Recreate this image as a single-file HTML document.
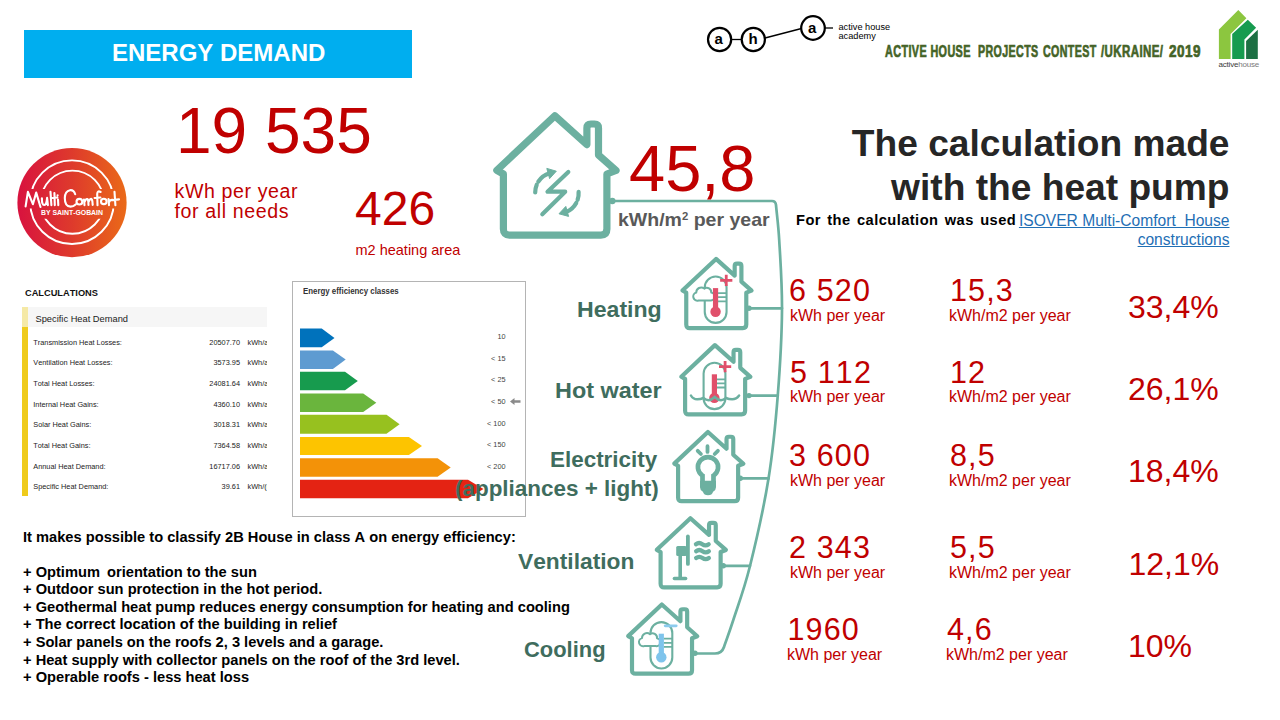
<!DOCTYPE html>
<html>
<head>
<meta charset="utf-8">
<style>
html,body{margin:0;padding:0;background:#fff;}
body{font-kerning:none;width:1280px;height:720px;position:relative;overflow:hidden;font-family:"Liberation Sans",sans-serif;}
.a{position:absolute;white-space:nowrap;line-height:1;}
.red{color:#c00000;}
.lbl{color:#3f6d5e;font-weight:bold;font-size:24px;text-align:right;}
.ct{font-size:16.8px;font-weight:bold;color:#446327;transform-origin:0 0;letter-spacing:0.6px;-webkit-text-stroke:0.7px #446327;}
.big{font-size:30.5px;letter-spacing:1.15px;}
.unit{font-size:16px;}
.pct{font-size:32px;}
.row{font-size:7.35px;color:#222;}
.num{text-align:right;width:60px;}
.cls{font-size:7.3px;color:#444;margin-top:-1.2px;text-align:right;width:40px;}
.bl{font-size:14.67px;font-weight:bold;color:#000;}
</style>
</head>
<body>

<!-- header bar -->
<div class="a" style="left:24px;top:30px;width:388px;height:48px;background:#00aeef;"></div>
<div class="a" id="t_energy" style="left:112px;top:41px;font-size:24px;font-weight:bold;color:#fff;">ENERGY DEMAND</div>

<!-- aha logo -->
<svg class="a" style="left:690px;top:0;" width="230" height="80" viewBox="690 0 230 80">
 <g fill="none" stroke="#000" stroke-width="2.2">
  <circle cx="719.6" cy="39.5" r="11.6"/>
  <circle cx="753.3" cy="39.5" r="11.6"/>
  <circle cx="813" cy="28" r="11.8"/>
 </g>
 <g stroke="#000" stroke-width="1.3">
  <line x1="731" y1="39.5" x2="742" y2="39.5"/>
  <line x1="765" y1="38" x2="801.5" y2="28.5"/>
  <line x1="825" y1="28" x2="833" y2="28"/>
 </g>
</svg>
<div class="a" style="left:714.5px;top:31px;font-size:15px;font-weight:bold;color:#000;">a</div>
<div class="a" style="left:748.5px;top:31px;font-size:15px;font-weight:bold;color:#000;">h</div>
<div class="a" style="left:808px;top:19.5px;font-size:15px;font-weight:bold;color:#000;">a</div>
<div class="a" style="left:838.5px;top:22.6px;font-size:9.2px;color:#000;line-height:9.8px;">active house<br>academy</div>

<div class="a ct" id="cw0" style="left:885.2px;top:44px;transform:scaleX(0.645);">ACTIVE HOUSE</div><div class="a ct" id="cw1" style="left:977.6px;top:44px;transform:scaleX(0.636);">PROJECTS</div><div class="a ct" id="cw2" style="left:1042.5px;top:44px;transform:scaleX(0.636);">CONTEST</div><div class="a ct" id="cw3" style="left:1100.7px;top:44px;transform:scaleX(0.685);">/UKRAINE/</div><div class="a ct" id="cw4" style="left:1169.4px;top:44px;transform:scaleX(0.806);">2019</div>

<!-- activehouse logo -->
<svg class="a" style="left:1200px;top:0;" width="80" height="80" viewBox="1200 0 80 80">
 <polygon points="1218.9,29.4 1238.3,10 1246.4,18.3 1230.6,33.9 1230.6,58.9 1218.9,58.9" fill="#8cc63f"/>
 <polygon points="1232.2,33.9 1247.8,19.8 1256.1,27.8 1244.4,39.4 1244.4,58.9 1232.2,58.9" fill="#169b4f"/>
 <polygon points="1246.1,41.1 1257.8,29.8 1257.8,58.9 1246.1,58.9" fill="#1d7044"/>
</svg>
<div class="a" style="left:1218.5px;top:61.2px;font-size:8px;color:#3a3a3a;letter-spacing:-0.2px;">active<span style="color:#7a7a7a">house</span></div>

<!-- Multi comfort logo -->
<svg class="a" style="left:10px;top:140px;" width="130" height="125" viewBox="10 140 130 125">
 <defs>
  <linearGradient id="mc" x1="0" y1="0" x2="1" y2="0">
   <stop offset="0" stop-color="#d8123f"/>
   <stop offset="0.5" stop-color="#de3a2c"/>
   <stop offset="1" stop-color="#ea6a18"/>
  </linearGradient>
 </defs>
 <clipPath id="mcc1"><rect x="10" y="140" width="130" height="48.9"/><rect x="10" y="208.6" width="130" height="60"/></clipPath>
 <clipPath id="mcc2"><rect x="10" y="140" width="130" height="48.9"/><rect x="10" y="218.8" width="130" height="60"/></clipPath>
 <circle cx="72" cy="202.7" r="54.6" fill="url(#mc)"/>
 <circle cx="72" cy="202.2" r="41.8" fill="none" stroke="#fff" stroke-width="1.9" clip-path="url(#mcc1)"/>
 <circle cx="72.4" cy="202.2" r="31.6" fill="none" stroke="#fff" stroke-width="1.9" clip-path="url(#mcc2)"/>
 <g fill="none" stroke="#fff" stroke-width="2.1" stroke-linecap="round" stroke-linejoin="round">
  <path d="M25.6 206.4 L27.9 191.8 L32.9 204.2 L36.2 192.6 L40.5 207.0"/>
  <path d="M41.9 198.2 Q41.8 205.3 44.3 205 Q46.6 204.6 47.1 197.8 L47.9 205.1"/>
  <path d="M50.5 191.8 L51.4 205.1 M54.4 193.0 L54.8 205.1 M52.2 198.0 L57.4 197.5 M58.0 199.5 L58.3 205.1 M57.6 195.2 L57.6 195.5"/>
  <path d="M75.2 194.2 Q73.8 189.8 70 190.2 Q65 191 64.8 198 Q64.8 206.5 70.5 206.6 Q73.5 206.5 75.6 204.4"/>
  <ellipse cx="79.4" cy="201.7" rx="2.9" ry="2.8"/>
  <path d="M84.0 199.5 L84.5 205.1 M84.5 202 Q86.6 197.6 87.9 199.5 Q88.5 201 88.5 204.9 M88.5 202 Q90.5 197.6 91.9 199.5 Q92.6 201 92.7 204.9"/>
  <path d="M100.6 192 Q97.4 190.2 97.2 194 L97.5 205.3 M94.6 198.0 L100.4 197.5"/>
  <ellipse cx="103.8" cy="201.4" rx="2.8" ry="2.7"/>
  <path d="M108.5 199.1 L109.0 205.1 M109.0 202.5 Q110.2 199.2 112.8 199.8 M114.5 191.8 L115.4 205.3 M112.1 200.1 L119.0 199.4"/>
 </g>
 <text x="72" y="215.4" text-anchor="middle" font-family="Liberation Sans, sans-serif" font-weight="bold" font-size="6.3" fill="#fff" textLength="62" lengthAdjust="spacingAndGlyphs">BY SAINT-GOBAIN</text>
</svg>

<!-- houses + connectors -->
<svg class="a" style="left:0;top:0;" width="1280" height="720" viewBox="0 0 1280 720">
 <defs>
  <path id="house" d="M 0 -61.1 L -6.6 -64.8 L 51.4 -119.3 L 83.5 -90.5 V -107.1 Q 83.5 -111.1 87.5 -111.1 H 91.1 Q 95.1 -111.1 95.1 -107.1 V -80.1 L 112.6 -64.6 L 103.5 -61.1 V -6.1 Q 103.5 0 97.5 0 H 6 Q 0 0 0 -6.1 Z" fill="none" stroke="#6cb0a0" stroke-width="7.2" stroke-linejoin="round" stroke-linecap="round"/>
  <g id="capsule">
   <rect x="18.5" y="-51.6" width="21.8" height="46.4" rx="10.9" ry="10.9" fill="none" stroke="#6cb0a0" stroke-width="2.1"/>
   <path d="M31.8 -35 h8.5 M31.8 -30.9 h8.5 M31.8 -26.8 h8.5" stroke="#6cb0a0" stroke-width="1.8" fill="none"/>
  </g>
  <g id="thermo">
   <rect x="26.7" y="-40" width="5.2" height="24" />
   <circle cx="29.3" cy="-16.4" r="5.2"/>
  </g>
  <path id="cloud" d="M12.3 -27.6 h11.4 a4 4 0 0 0 1.3 -7.9 a4.4 4.4 0 0 0 -7 -4 a4.9 4.9 0 0 0 -8 3.9 a4 4 0 0 0 2.3 8 z" fill="#fff" stroke="#6cb0a0" stroke-width="2" stroke-linejoin="round"/>
 </defs>
 <!-- connector -->
 <g fill="none" stroke="#6cb0a0" stroke-width="2.7" stroke-linecap="round" stroke-linejoin="round">
  <path d="M 612 201 H 772 Q 775.6 201 776 205 C 776.8 214.2 778.4 225 779.2 240.0 C 780.2 256.8 782.2 284.2 782.0 310.0 C 781.8 335.8 780.0 367.0 777.8 395.0 C 775.6 423.0 773.2 449.5 768.6 478.0 C 764.0 506.5 755.9 542.3 750.0 566.0 C 744.1 589.7 737.7 606.3 733.3 620.0 C 728.9 633.7 725.6 642 724 647 Q 721.8 653.5 715 653.5 H 695"/>
  <path d="M 749 308.3 H 782 M 749 395.6 H 777.8 M 740 478.4 H 768.6 M 723 565.8 H 750"/>
 </g>
 <g fill="#6cb0a0">
  <circle cx="612.3" cy="201" r="3.2"/>
  <circle cx="749" cy="308.2" r="2.7"/>
  <circle cx="749" cy="395.6" r="2.7"/>
  <circle cx="740.3" cy="478.3" r="2.7"/>
  <circle cx="723.3" cy="565.7" r="2.7"/>
  <circle cx="695" cy="653.3" r="2.7"/>
 </g>
 <!-- big house -->
 <use href="#house" transform="translate(503.4 235.1)"/>
 <g fill="none" stroke="#6cb0a0" stroke-width="4.2" stroke-linecap="round" stroke-linejoin="round">
  <path d="M568.3 171.9 L547.5 191.7 H565.2 L542.3 214.2"/>
  <path d="M535.2 192.5 A 20 20 0 0 1 549.5 173.2" stroke-dasharray="8 3.4 40"/>
  <path d="M578.6 191.9 A 20 20 0 0 1 566 212"  stroke-dasharray="8 3.4 40"/>
 </g>
 <path d="M546.8 168.4 L556.3 171.2 L549.6 178.6 Z" fill="#6cb0a0" stroke="#6cb0a0" stroke-width="1" stroke-linejoin="round"/>
 <path d="M568.6 216.4 L559 213.8 L565.8 206.4 Z" fill="#6cb0a0" stroke="#6cb0a0" stroke-width="1" stroke-linejoin="round"/>

 <!-- heating -->
 <g transform="translate(686.25 328.1)">
  <use href="#house" transform="scale(0.58)"/>
  <use href="#capsule"/>
  <use href="#cloud"/>
  <use href="#thermo" fill="#e0506b"/>
  <path d="M33.9 -47.7 h12.2 M40 -53.4 v11.4" stroke="#e0506b" stroke-width="2.8" fill="none"/>
 </g>
 <!-- hot water -->
 <g transform="translate(685.1 414.3)">
  <use href="#house" transform="scale(0.58)"/>
  <use href="#capsule"/>
  <use href="#thermo" fill="#e0506b"/>
  <path d="M33.9 -47.7 h12.2 M40 -53.4 v11.4" stroke="#e0506b" stroke-width="2.8" fill="none"/>
  <path d="M5.85 -18.8 Q 8 -15 12.1 -15 Q 15.5 -15 18.35 -16.3 Q 21 -14.2 23.35 -14.15 Q 26.5 -14.2 29.6 -17.3 Q 32.7 -14.2 35.85 -14.15 Q 38.2 -14.2 40.85 -16.3 Q 43.7 -15 47.1 -15 Q 51.2 -15 54 -18.8" stroke="#6cb0a0" stroke-width="2.5" fill="none" stroke-linecap="round"/>
 </g>
 <!-- electricity -->
 <g transform="translate(678.1 501.2)">
  <use href="#house" transform="scale(0.58)"/>
  <path d="M24.4 -19 V-25.6 A10.1 10.1 0 1 1 35.4 -25.6 V-19" fill="none" stroke="#6cb0a0" stroke-width="4.7"/>
  <path d="M21.9 -20.5 H37.9 V-14 Q37.9 -11 35 -9.5 Q34 -6 29.9 -6 Q25.8 -6 24.8 -9.5 Q21.9 -11 21.9 -14 Z" fill="#6cb0a0"/>
  <path d="M29.4 -55 V-49.3 M19.6 -50.4 L22.8 -47.2 M39.8 -50.4 L36.6 -47.2" stroke="#6cb0a0" stroke-width="3.8" stroke-linecap="round" fill="none"/>
 </g>
 <!-- ventilation -->
 <g transform="translate(660.6 587.4)">
  <use href="#house" transform="scale(0.58)"/>
  <g stroke="#6cb0a0" fill="none" stroke-linecap="round">
   <path d="M27.3 -51 V-23.5" stroke-width="3.8"/>
   <path d="M19.6 -32 V-9.5" stroke-width="3.6"/>
   <path d="M13.8 -8.8 H25" stroke-width="3.5"/>
   <path d="M35.3 -43.2 q3.2 -2.4 6.4 0 q3.2 2.4 6.4 0 M35.5 -36.2 q3.2 -2.4 6.4 0 q3.2 2.4 6.4 0 M35.5 -29.4 q3.2 -2.4 6.4 0 q3.2 2.4 6.4 0" stroke-width="4.2"/>
  </g>
  <rect x="15.6" y="-41.3" width="10.5" height="10" rx="1.5" fill="#6cb0a0"/>
 </g>
 <!-- cooling -->
 <g transform="translate(632 673.7)">
  <use href="#house" transform="scale(0.58)"/>
  <g transform="translate(0 0)">
  <use href="#capsule"/>
  <use href="#cloud"/>
  <use href="#thermo" fill="#7fc4ec"/>
  <path d="M33.2 -47.9 h11" stroke="#8ccbee" stroke-width="2.8" fill="none" stroke-linecap="round"/>
  </g>
 </g>
</svg>

<!-- top-left numbers -->
<div class="a red" id="t_19535" style="left:176px;top:99px;font-size:64px;">19 535</div>
<div class="a red" id="t_kwh1" style="left:174.5px;top:180.5px;font-size:19.6px;line-height:20px;letter-spacing:0.6px;">kWh per year<br>for all needs</div>
<div class="a red" id="t_426" style="left:355px;top:184.5px;font-size:48px;">426</div>
<div class="a red" id="t_m2" style="left:355.5px;top:243px;font-size:14.5px;">m2 heating area</div>

<!-- big number -->
<div class="a red" id="t_458" style="left:629px;top:136.2px;font-size:65px;">45,8</div>
<div class="a" id="t_kwhm2" style="left:617.6px;top:210.4px;font-size:19px;font-weight:bold;color:#595959;transform-origin:0 0;transform:scaleX(1.027);">kWh/m<span style="font-size:11px;vertical-align:6px;">2</span> per year</div>

<!-- title right -->
<div class="a" id="t_title" style="right:50.5px;top:120.5px;font-size:37.15px;font-weight:bold;color:#262626;text-align:right;line-height:44.6px;">The calculation made<br>with the heat pump</div>
<div class="a" id="t_for" style="left:796px;top:213.3px;font-size:14.67px;font-weight:bold;color:#000;letter-spacing:0.45px;word-spacing:1.8px;">For the calculation was used</div>
<div class="a" id="t_link" style="right:50.5px;top:211.3px;font-size:15.6px;color:#1f6fb5;text-align:right;line-height:19px;text-decoration:underline;">ISOVER Multi-Comfort&nbsp; House<br>constructions</div>


<!-- CALCULATIONS table -->
<div class="a" id="t_calc" style="left:25px;top:289.2px;font-size:9.25px;font-weight:bold;color:#111;">CALCULATIONS</div>
<div class="a" style="left:22px;top:307px;width:5.5px;height:20px;background:#f5e9a6;"></div>
<div class="a" style="left:22px;top:327px;width:5.5px;height:169px;background:#efcb1b;"></div>
<div class="a" style="left:27.5px;top:307px;width:239.5px;height:20px;background:#f6f6f6;"></div>
<div class="a" id="t_shd" style="left:35.5px;top:315.3px;font-size:9.3px;color:#222;">Specific Heat Demand</div>
<div class="a" style="left:0;top:0;width:267px;height:720px;overflow:hidden;">
<div class="a row" style="left:33.3px;top:338.7px;">Transmission Heat Losses:</div><div class="a row num" style="left:180px;top:338.7px;">20507.70</div><div class="a row" style="left:247.5px;top:338.7px;">kWh/a</div>
<div class="a row" style="left:33.3px;top:359.4px;">Ventilation Heat Losses:</div><div class="a row num" style="left:180px;top:359.4px;">3573.95</div><div class="a row" style="left:247.5px;top:359.4px;">kWh/a</div>
<div class="a row" style="left:33.3px;top:379.9px;">Total Heat Losses:</div><div class="a row num" style="left:180px;top:379.9px;">24081.64</div><div class="a row" style="left:247.5px;top:379.9px;">kWh/a</div>
<div class="a row" style="left:33.3px;top:400.6px;">Internal Heat Gains:</div><div class="a row num" style="left:180px;top:400.6px;">4360.10</div><div class="a row" style="left:247.5px;top:400.6px;">kWh/a</div>
<div class="a row" style="left:33.3px;top:421.0px;">Solar Heat Gains:</div><div class="a row num" style="left:180px;top:421.0px;">3018.31</div><div class="a row" style="left:247.5px;top:421.0px;">kWh/a</div>
<div class="a row" style="left:33.3px;top:441.8px;">Total Heat Gains:</div><div class="a row num" style="left:180px;top:441.8px;">7364.58</div><div class="a row" style="left:247.5px;top:441.8px;">kWh/a</div>
<div class="a row" style="left:33.3px;top:462.9px;">Annual Heat Demand:</div><div class="a row num" style="left:180px;top:462.9px;">16717.06</div><div class="a row" style="left:247.5px;top:462.9px;">kWh/a</div>
<div class="a row" style="left:33.3px;top:483.0px;">Specific Heat Demand:</div><div class="a row num" style="left:180px;top:483.0px;">39.61</div><div class="a row" style="left:247.5px;top:483.0px;">kWh/(m²a)</div>
</div>

<!-- energy chart -->
<div class="a" style="left:292px;top:280.5px;width:233.5px;height:236px;border:1.2px solid #b4b4b4;box-sizing:border-box;"></div>
<div class="a" id="t_eec" style="left:303px;top:287px;font-size:8.6px;font-weight:bold;color:#333;transform-origin:0 0;transform:scaleX(0.915);">Energy efficiency classes</div>
<svg class="a" style="left:292px;top:320px;" width="232" height="190" viewBox="292 320 232 190">
 <polygon points="300,328.6 321.7,328.6 334.5,337.9 321.7,347.2 300,347.2" fill="#0072bc"/>
 <polygon points="300,350.4 332.9,350.4 345.7,359.6 332.9,368.9 300,368.9" fill="#5e9bd1"/>
 <polygon points="300,371.7 345,371.7 357.8,381.0 345,390.3 300,390.3" fill="#179b4e"/>
 <polygon points="300,393.5 363.2,393.5 376.3,402.8 363.2,412 300,412" fill="#6ab53d"/>
 <polygon points="300,414.8 386.5,414.8 399.6,424.2 386.5,433.7 300,433.7" fill="#97c11f"/>
 <polygon points="300,436.9 408.9,436.9 422,445.9 408.9,455 300,455" fill="#fdc400"/>
 <polygon points="300,458.3 437.6,458.3 450.7,467.6 437.6,476.8 300,476.8" fill="#f39208"/>
 <polygon points="300,479.7 468,479.7 483.5,488.9 468,498.2 300,498.2" fill="#e42313"/>
 <path d="M510 401.5 l4.5 -3.5 v2.2 h6 v2.6 h-6 v2.2 z" fill="#8a8a8a"/>
</svg>
<div class="a cls" style="left:465.5px;top:334.4px;">10</div>
<div class="a cls" style="left:465.5px;top:356.1px;">&lt; 15</div>
<div class="a cls" style="left:465.5px;top:377.5px;">&lt; 25</div>
<div class="a cls" style="left:465.5px;top:399.2px;">&lt; 50</div>
<div class="a cls" style="left:465.5px;top:420.8px;">&lt; 100</div>
<div class="a cls" style="left:465.5px;top:442.4px;">&lt; 150</div>
<div class="a cls" style="left:465.5px;top:464.1px;">&lt; 200</div>

<!-- bottom-left text -->
<div class="a bl" id="t_b0" style="left:23px;top:530.2px;">It makes possible to classify 2B House in class A on energy efficiency:</div>
<div class="a bl" id="t_b1" style="left:23px;top:564.5px;">+ Optimum<span style="margin-left:3px"> </span>orientation to the sun</div>
<div class="a bl" id="t_b2" style="left:23px;top:582.1px;">+ Outdoor sun protection in the hot period.</div>
<div class="a bl" id="t_b3" style="left:23px;top:599.7px;">+ Geothermal heat pump reduces energy consumption for heating and cooling</div>
<div class="a bl" id="t_b4" style="left:23px;top:617.3px;">+ The correct location of the building in relief</div>
<div class="a bl" id="t_b5" style="left:23px;top:634.9px;">+ Solar panels on the roofs 2, 3 levels and a garage.</div>
<div class="a bl" id="t_b6" style="left:23px;top:652.5px;">+ Heat supply with collector panels on the roof of the 3rd level.</div>
<div class="a bl" id="t_b7" style="left:23px;top:670.1px;">+ Operable roofs - less heat loss</div>

<!-- data rows -->
<div class="a red big" id="r0a" style="left:789px;top:275.4px;">6 520</div><div class="a red unit" id="r0b" style="left:790px;top:307.7px;">kWh per year</div><div class="a red big" id="r0c" style="left:950px;top:275.4px;">15,3</div><div class="a red unit" id="r0d" style="left:949px;top:307.7px;">kWh/m2 per year</div><div class="a red pct" id="r0e" style="left:1128px;top:291.3px;">33,4%</div>
<div class="a red big" id="r1a" style="left:790.0px;top:357.2px;">5 112</div><div class="a red unit" id="r1b" style="left:790px;top:389.0px;">kWh per year</div><div class="a red big" id="r1c" style="left:950px;top:357.2px;">12</div><div class="a red unit" id="r1d" style="left:949px;top:389.0px;">kWh/m2 per year</div><div class="a red pct" id="r1e" style="left:1128px;top:372.7px;">26,1%</div>
<div class="a red big" id="r2a" style="left:789px;top:439.6px;">3 600</div><div class="a red unit" id="r2b" style="left:790px;top:472.7px;">kWh per year</div><div class="a red big" id="r2c" style="left:950px;top:439.6px;">8,5</div><div class="a red unit" id="r2d" style="left:949px;top:472.7px;">kWh/m2 per year</div><div class="a red pct" id="r2e" style="left:1128px;top:455.3px;">18,4%</div>
<div class="a red big" id="r3a" style="left:789px;top:532.0px;">2 343</div><div class="a red unit" id="r3b" style="left:790px;top:564.8px;">kWh per year</div><div class="a red big" id="r3c" style="left:950px;top:532.0px;">5,5</div><div class="a red unit" id="r3d" style="left:949px;top:564.8px;">kWh/m2 per year</div><div class="a red pct" id="r3e" style="left:1128.5px;top:547.9px;">12,1%</div>
<div class="a red big" id="r4a" style="left:787.5px;top:614.2px;">1960</div><div class="a red unit" id="r4b" style="left:787px;top:646.5px;">kWh per year</div><div class="a red big" id="r4c" style="left:947px;top:614.2px;">4,6</div><div class="a red unit" id="r4d" style="left:946px;top:646.5px;">kWh/m2 per year</div><div class="a red pct" id="r4e" style="left:1128px;top:630.1px;">10%</div>

<!-- labels -->
<div class="a lbl" id="l0" style="left:577.1px;top:298.5px;font-size:22.5px;transform-origin:0 0;transform:scaleX(1.027);">Heating</div>
<div class="a lbl" id="l1" style="left:555.2px;top:380.0px;font-size:22.5px;transform-origin:0 0;transform:scaleX(1.04);">Hot water</div>
<div class="a lbl" id="l2" style="left:550.0px;top:449.2px;font-size:22.5px;transform-origin:0 0;transform:scaleX(0.997);">Electricity</div>
<div class="a lbl" id="l3" style="left:455.1px;top:477.7px;font-size:22.5px;transform-origin:0 0;transform:scaleX(0.997);">(appliances + light)</div>
<div class="a lbl" id="l4" style="left:518.2px;top:551.0px;font-size:22.5px;transform-origin:0 0;transform:scaleX(1.012);">Ventilation</div>
<div class="a lbl" id="l5" style="left:523.9px;top:639.2px;font-size:22.5px;transform-origin:0 0;transform:scaleX(0.974);">Cooling</div>
</body>
</html>
